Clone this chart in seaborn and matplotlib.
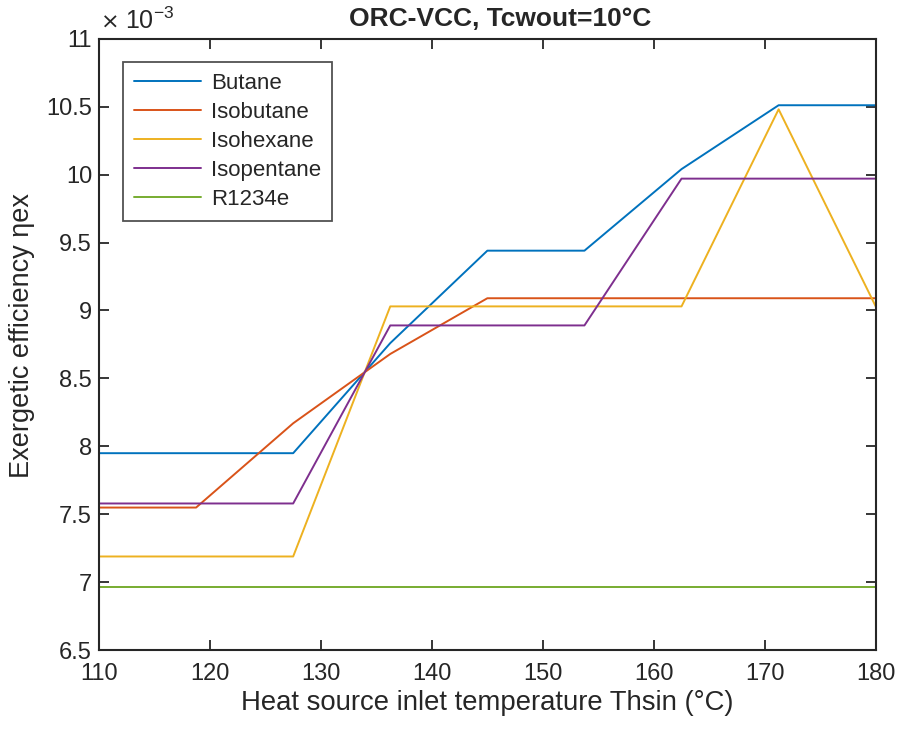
import matplotlib
matplotlib.use("Agg")
import matplotlib.pyplot as plt
import seaborn as sns
import pandas as pd

temps = [110, 118.75, 127.5, 136.25, 145, 153.75, 162.5, 171.25, 180]
butane = [7.95, 7.95, 7.95, 8.76, 9.44, 9.44, 10.04, 10.51, 10.51]
isobutane = [7.55, 7.55, 8.17, 8.68, 9.09, 9.09, 9.09, 9.09, 9.09]
isohexane = [7.19, 7.19, 7.19, 9.03, 9.03, 9.03, 9.03, 10.48, 9.03]
isopentane = [7.58, 7.58, 7.58, 8.89, 8.89, 8.89, 9.97, 9.97, 9.97]
r1234e = [6.965] * 9
names = ["Butane", "Isobutane", "Isohexane", "Isopentane", "R1234e"]
colors = ["#0072BD", "#D95319", "#EDB120", "#7E2F8E", "#77AC30"]
xticks = [110, 120, 130, 140, 150, 160, 170, 180]
yticks = [6.5, 7, 7.5, 8, 8.5, 9, 9.5, 10, 10.5, 11]

series = [butane, isobutane, isohexane, isopentane, r1234e]
rows = []
for n, vals in zip(names, series):
    for t, v in zip(temps, vals):
        rows.append({"T": t, "eff": v, "Fluid": n})
df = pd.DataFrame(rows)

sns.set_style("white")
plt.rcParams["font.family"] = ["Liberation Sans", "DejaVu Sans"]

fig = plt.figure(figsize=(9, 7.29), dpi=100)
ax = fig.add_axes([0.11, 0.108, 0.863, 0.839])
sns.lineplot(data=df, x="T", y="eff", hue="Fluid", palette=colors,
             hue_order=names, ax=ax, linewidth=1.4, legend=True)

ax.set_xlim(110, 180)
ax.set_ylim(6.5, 11)
ax.set_xticks(xticks)
ax.set_xticklabels([str(t) for t in xticks])
ax.set_yticks(yticks)
ax.set_yticklabels([f"{v:g}" for v in yticks])
ax.tick_params(direction="in", top=True, right=True, left=True, bottom=True,
               length=7, width=1.3, labelsize=17, colors="#262626")
ax.tick_params(axis="x", pad=9)
ax.tick_params(axis="y", pad=5)
for s in ax.spines.values():
    s.set_color("#262626")
    s.set_linewidth(1.5)

ax.set_xlabel("Heat source inlet temperature Thsin (°C)", fontsize=19.8,
              color="#262626", labelpad=4)
ax.set_ylabel("Exergetic efficiency ηex", fontsize=19.5, color="#262626", labelpad=8)
ax.yaxis.set_label_coords(-0.082, 0.515)
ax.set_title("ORC-VCC, Tcwout=10°C", fontsize=19, fontweight="bold", pad=9, x=0.516)
ax.text(0.002, 1.010, "×", transform=ax.transAxes, fontsize=16, family="DejaVu Sans",
        color="#262626", ha="left", va="bottom")
ax.text(0.034, 1.008, r"10$^{\mathregular{-3}}$", transform=ax.transAxes, fontsize=18,
        color="#262626", ha="left", va="bottom")

leg = ax.legend(loc="upper left", bbox_to_anchor=(0.031, 0.962), borderaxespad=0,
                fontsize=16, frameon=True, fancybox=False, edgecolor="#262626",
                handlelength=3.0, borderpad=0.5, labelspacing=0.36,
                handletextpad=0.45)
leg.get_frame().set_linewidth(1.3)

fig.savefig("out.png", dpi=100)
